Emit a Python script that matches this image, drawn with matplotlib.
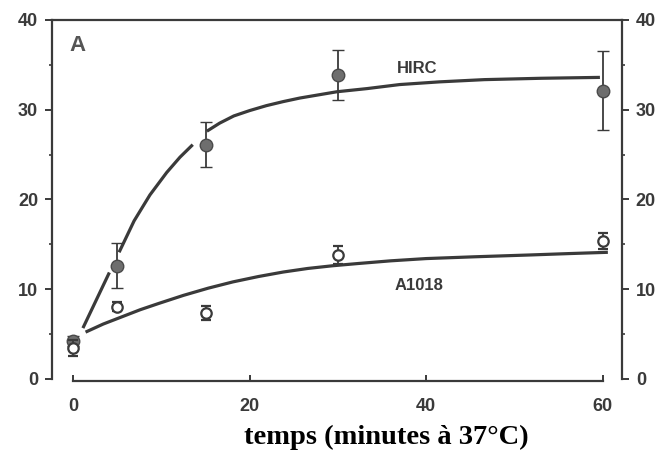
import matplotlib
matplotlib.use("Agg")
import matplotlib.pyplot as plt

# ---- data ----
times = [0, 5, 15, 30, 60]
hirc_mean = [4.2, 12.6, 26.1, 33.9, 32.1]
hirc_err = [0.6, 2.5, 2.5, 2.8, 4.4]
a1018_mean = [3.4, 8.05, 7.3, 13.8, 15.4]
a1018_err = [0.9, 0.5, 0.8, 1.0, 0.9]

# fitted curves (drawn in segments as in the original)
hirc_fit_x1 = [1.1, 4.1]
hirc_fit_y1 = [5.65, 11.85]
hirc_fit_x2 = [5.2, 6.9, 8.7, 10.6, 12.1, 13.55]
hirc_fit_y2 = [14.1, 17.6, 20.5, 23.0, 24.7, 26.1]
hirc_fit_x3 = [15.15, 16.6, 18.2, 20.0, 21.9, 23.8, 25.7, 27.8, 29.9,
               33.3, 37.0, 41.5, 46.6, 53.0, 59.7]
hirc_fit_y3 = [27.6, 28.5, 29.3, 29.9, 30.45, 30.9, 31.3, 31.65, 32.0,
               32.35, 32.8, 33.1, 33.35, 33.5, 33.6]
a1018_fit_x = [1.4, 3.4, 5.5, 7.6, 9.7, 12.5, 15.3, 18.1, 21.0, 23.8,
               26.6, 29.4, 32.3, 36.0, 40.0, 45.5, 51.7, 56.0, 60.6]
a1018_fit_y = [5.2, 6.1, 6.9, 7.7, 8.4, 9.3, 10.1, 10.8, 11.4, 11.9,
               12.3, 12.6, 12.85, 13.15, 13.4, 13.6, 13.8, 13.95, 14.1]

xticks = [0, 20, 40, 60]
yticks = [0, 10, 20, 30, 40]
xlabel = "temps (minutes à 37°C)"

ink = "#3a3a3a"

fig = plt.figure(figsize=(6.67, 4.5), dpi=100)
ax = fig.add_axes([0.078, 0.1533, 0.8545, 0.8023])
ax.set_xlim(-2.4, 62.2)
ax.set_ylim(-0.25, 40)

lw = 2.3
for xs, ys in [(hirc_fit_x1, hirc_fit_y1), (hirc_fit_x2, hirc_fit_y2),
               (hirc_fit_x3, hirc_fit_y3), (a1018_fit_x, a1018_fit_y)]:
    ax.plot(xs, ys, color=ink, lw=lw, solid_capstyle="butt",
            solid_joinstyle="round", zorder=2)

ax.errorbar(times, hirc_mean, yerr=hirc_err, fmt="o", ms=9, mfc="#6e6e6e",
            mec="#4a4a4a", mew=1.0, ecolor=ink, elinewidth=1.3, capsize=4,
            capthick=1.3, zorder=3)
ax.errorbar(times, a1018_mean, yerr=a1018_err, fmt="o", ms=7.5, mfc="white",
            mec=ink, mew=1.6, ecolor=ink, elinewidth=1.3, capsize=3.5,
            capthick=1.3, zorder=4)

# spines
for s in ["left", "right", "top", "bottom"]:
    ax.spines[s].set_color(ink)
    ax.spines[s].set_linewidth(1.6)
ax.spines["left"].set_bounds(0, 40)
ax.spines["right"].set_bounds(0, 40)
ax.spines["bottom"].set_bounds(0, 60)

tick_font = dict(family=["Liberation Sans", "DejaVu Sans"], weight="bold",
                 size=13)
ax.set_xticks(xticks)
ax.set_xticklabels([str(v) for v in xticks], color=ink, **tick_font)
ax.set_yticks(yticks)
ax.set_yticklabels([str(v) for v in yticks], color=ink, **tick_font)
ax.set_yticks([5, 15, 25, 35], minor=True)
ax.tick_params(axis="x", direction="in", length=4, width=1.4, color=ink,
               pad=12)
ax.tick_params(axis="y", which="major", direction="out", length=5, width=1.4,
               color=ink, pad=5, left=True, right=True, labelleft=True,
               labelright=True)
ax.tick_params(axis="y", which="minor", direction="out", length=2.5,
               width=1.2, color=ink, left=True, right=True)

ax.text(0.5, 37.2, "A", fontsize=16, fontweight="bold", color="#555555",
        family=["Liberation Sans", "DejaVu Sans"], ha="center", va="center")
ax.text(39.0, 34.6, "HIRC", fontsize=12, fontweight="bold", color=ink,
        family=["Liberation Sans", "DejaVu Sans"], ha="center", va="center")
ax.text(39.2, 10.4, "A1018", fontsize=12, fontweight="bold", color=ink,
        family=["Liberation Sans", "DejaVu Sans"], ha="center", va="center")

fig.text(386 / 667, 1 - 437 / 450, xlabel, fontsize=20.5, fontweight="bold",
         family=["Liberation Serif", "DejaVu Serif"], color="black",
         ha="center", va="center")

fig.savefig("out.png", dpi=100)
